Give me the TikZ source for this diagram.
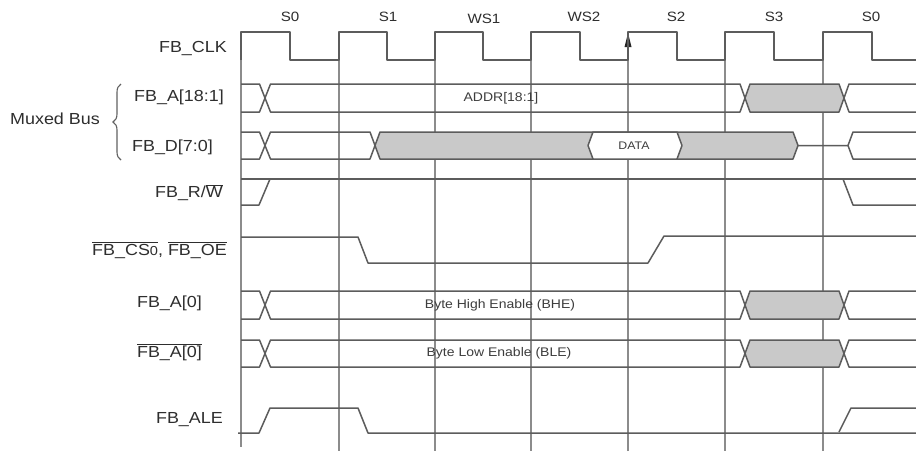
\documentclass[tikz,border=0pt]{standalone}
\usepackage{fontspec}
\setmainfont{Liberation Sans}[FakeStretch=1.12]
\usetikzlibrary{decorations.pathreplacing}
\begin{document}
\begin{tikzpicture}[x=1pt,y=-1pt,
  sig/.style={draw=black!64, line width=1.5pt, line join=round},
  gridln/.style={draw=black!45, line width=1.3pt},
  lbl/.style={anchor=east, inner sep=0pt, text=black!82, font=\fontsize{16}{18}\selectfont},
  toplbl/.style={inner sep=0pt, text=black!82, font=\fontsize{13.5}{15}\selectfont},
  intxt/.style={inner sep=0pt, text=black!76, font=\fontsize{12.5}{14}\selectfont},
  busfill/.style={fill=black!21}]
\fill[white] (0,0) rectangle (916,451);
\useasboundingbox (0,0) rectangle (916,451);

% grid lines
\draw[gridln] (241,32) -- (241,447);
\foreach \x in {339,435,531,725,823} \draw[gridln] (\x,60) -- (\x,451);
\draw[gridln] (628,451) -- (628,45);
\fill[black!85] (628,33) -- (624.5,47) -- (631.5,47) -- cycle;

% clock
\draw[sig] (241,60)--(241,32)--(290,32)--(290,60)--(339,60)--(339,32)--(387,32)--(387,60)--(435,60)--(435,32)--(483,32)--(483,60)--(531,60)--(531,32)--(580,32)--(580,60)--(628,60)--(628,32)--(677,32)--(677,60)--(725,60)--(725,32)--(774,32)--(774,60)--(823,60)--(823,32)--(872,32)--(872,60)--(916,60);

% address-like buses
\foreach \yc/\hh in {98/14, 305/14, 353.5/13.5} {
  \fill[busfill] (750,\yc-\hh) -- (839,\yc-\hh) -- (844,\yc) -- (839,\yc+\hh) -- (750,\yc+\hh) -- (745,\yc) -- cycle;
  \draw[sig] (241,\yc-\hh) -- (259.5,\yc-\hh) -- (270.5,\yc+\hh) -- (740,\yc+\hh) -- (750,\yc-\hh) -- (839,\yc-\hh) -- (849,\yc+\hh) -- (916,\yc+\hh);
  \draw[sig] (241,\yc+\hh) -- (259.5,\yc+\hh) -- (270.5,\yc-\hh) -- (740,\yc-\hh) -- (750,\yc+\hh) -- (839,\yc+\hh) -- (849,\yc-\hh) -- (916,\yc-\hh);
}

% data bus
\fill[busfill] (380,132) -- (793,132) -- (798,145.5) -- (793,159) -- (380,159) -- (375,145.5) -- cycle;
\draw[sig] (241,132) -- (259.5,132) -- (270.5,159) -- (370,159) -- (380,132) -- (793,132) -- (798,145.5) -- (848,145.5) -- (853,132) -- (916,132);
\draw[sig] (241,159) -- (259.5,159) -- (270.5,132) -- (370,132) -- (380,159) -- (793,159) -- (798,145.5);
\draw[sig] (848,145.5) -- (853,159) -- (916,159);
\draw[sig, fill=white] (588,145.5) -- (593,132) -- (677,132) -- (682,145.5) -- (677,159) -- (593,159) -- cycle;

% R/W
\draw[sig] (241,179) -- (916,179);
\draw[sig] (241,205) -- (259,205) -- (270,179);
\draw[sig] (843,179) -- (853,205) -- (916,205);

% CS0 / OE
\draw[sig] (241,237) -- (358,237) -- (368,263) -- (648,263) -- (664,236) -- (916,236);

% ALE
\draw[sig] (238,433) -- (259,433) -- (270,408) -- (358,408) -- (368,433) -- (916,433);
\draw[sig] (839,432) -- (851,408) -- (916,408);

% brace
\draw[black!62, line width=1.1pt, decorate, decoration={brace, amplitude=8pt}] (121,160) -- (121,84);

% labels
\node[lbl] (clk) at (227,48) {FB\_CLK};
\node[lbl] (addr) at (224,97) {FB\_A[18:1]};
\node[lbl] (mux) at (100,119) {Muxed Bus};
\node[lbl] (data) at (213,147) {FB\_D[7:0]};
\node[lbl] (rw) at (223,193) {FB\_R/$\overline{\hbox{W}}$};
\node[lbl] (cs) at (227,250) {$\overline{\hbox{FB\_CS{\fontsize{13}{14}\selectfont 0}}}$, $\overline{\hbox{FB\_OE}}$};
\node[lbl] (a0h) at (202,303) {FB\_A[0]};
\node[lbl] (a0l) at (202,352) {$\overline{\hbox{FB\_A[0]}}$};
\node[lbl] (ale) at (223,420) {FB\_ALE};

% state labels
\node[toplbl] (s0a) at (290,17) {S0};
\node[toplbl] (s1) at (388,17) {S1};
\node[toplbl] (ws1) at (484,19) {WS1};
\node[toplbl] (ws2) at (584,17) {WS2};
\node[toplbl] (s2) at (676,17) {S2};
\node[toplbl] (s3) at (774,17) {S3};
\node[toplbl] (s0b) at (871,17) {S0};

% in-bus texts
\node[intxt] (t1) at (501,98) {ADDR[18:1]};
\node[intxt, font=\fontsize{11}{13}\selectfont] (t2) at (634,145.5) {DATA};
\node[intxt] (t3) at (500,305) {Byte High Enable (BHE)};
\node[intxt] (t4) at (499,353) {Byte Low Enable (BLE)};
\end{tikzpicture}
\end{document}
